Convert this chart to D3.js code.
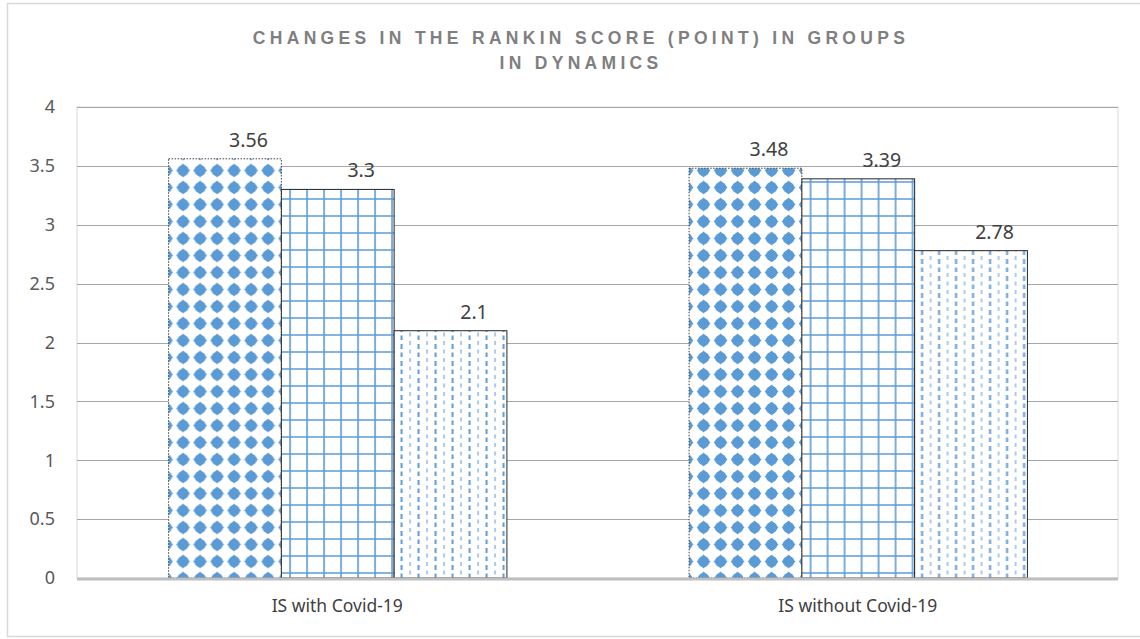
<!DOCTYPE html>
<html>
<head>
<meta charset="utf-8">
<script src="https://cdn.jsdelivr.net/npm/d3@7"></script>
<style>
  body { margin: 0; background: #fff; }
  svg { display: block; }
</style>
</head>
<body>
<div id="chart"></div>
<script>
const categories = ["IS with Covid-19", "IS without Covid-19"];
const seriesNames = ["s1", "s2", "s3"];
const seriesValues = [
  [3.56, 3.48],
  [3.3, 3.39],
  [2.1, 2.78]
];
const yTicks = [0, 0.5, 1, 1.5, 2, 2.5, 3, 3.5, 4];
const titleLines = ["CHANGES IN THE RANKIN SCORE (POINT) IN GROUPS", "IN DYNAMICS"];

const width = 1140, height = 639;
const plot = { left: 77, right: 1118, top: 107, bottom: 578 };
const blue = "#5b9bd5";

const svg = d3.select("#chart").append("svg")
  .attr("width", width)
  .attr("height", height);

// patterns
const defs = svg.append("defs");

const pDots = defs.append("pattern")
  .attr("id", "pat-dots")
  .attr("patternUnits", "userSpaceOnUse")
  .attr("width", 17).attr("height", 17)
  .attr("x", 159.5).attr("y", 162);
pDots.append("rect").attr("width", 17).attr("height", 17).attr("fill", "#fff");
pDots.append("circle")
  .attr("cx", 8.5).attr("cy", 8.5).attr("r", 5.6)
  .attr("fill", blue);
pDots.append("path")
  .attr("d", "M8.5,1.6 L15.4,8.5 L8.5,15.4 L1.6,8.5 Z")
  .attr("fill", blue);

const pGrid = defs.append("pattern")
  .attr("id", "pat-grid")
  .attr("patternUnits", "userSpaceOnUse")
  .attr("width", 17).attr("height", 17)
  .attr("x", 0).attr("y", plot.bottom);
pGrid.append("rect").attr("width", 17).attr("height", 17).attr("fill", "#fff");
pGrid.append("path")
  .attr("d", "M3,0 V17 M0,12 H17")
  .attr("stroke", blue).attr("stroke-width", 1.6);

const pDash = defs.append("pattern")
  .attr("id", "pat-dash")
  .attr("patternUnits", "userSpaceOnUse")
  .attr("width", 17).attr("height", 17)
  .attr("x", 0).attr("y", plot.bottom);
pDash.append("rect").attr("width", 17).attr("height", 17).attr("fill", "#fff");
pDash.append("path")
  .attr("d", "M4,1 V5 M4,9.5 V13.5")
  .attr("stroke", "#7fb0de").attr("stroke-width", 1.3);
pDash.append("path")
  .attr("d", "M12.5,4 V9 M12.5,12.5 V17.5")
  .attr("stroke", blue).attr("stroke-width", 2);

const fills = ["url(#pat-dots)", "url(#pat-grid)", "url(#pat-dash)"];
const borders = [
  { stroke: "#404040", dash: "1.5,1.5" },
  { stroke: "#262626", dash: null },
  { stroke: "#262626", dash: null }
];

// outer frame
svg.append("rect")
  .attr("x", 7.5).attr("y", 3.5)
  .attr("width", width).attr("height", 633)
  .attr("fill", "none").attr("stroke", "#d9d9d9").attr("stroke-width", 1.5);

// title
const title = svg.append("text")
  .attr("text-anchor", "middle")
  .attr("font-family", "Liberation Sans Narrow, Liberation Sans, Arial, sans-serif")
  .attr("font-weight", "bold")
  .attr("font-size", 17.5)
  .attr("letter-spacing", 4.3)
  .attr("fill", "#7f7f7f");
titleLines.forEach((t, i) => {
  title.append("tspan")
    .attr("x", 581)
    .attr("y", 44 + i * 24.5)
    .text(t);
});

// scales
const y = d3.scaleLinear().domain([0, 4]).range([plot.bottom, plot.top]);
const x0 = d3.scaleBand().domain(categories).range([plot.left, plot.right]).paddingInner(0.35).paddingOuter(0.175);
const x1 = d3.scaleBand().domain(seriesNames).range([0, x0.bandwidth()]);

// plot area border
svg.append("rect")
  .attr("x", plot.left).attr("y", plot.top)
  .attr("width", plot.right - plot.left).attr("height", plot.bottom - plot.top)
  .attr("fill", "none").attr("stroke", "#d9d9d9").attr("stroke-width", 1);

// gridlines
svg.append("g")
  .selectAll("line")
  .data(yTicks.filter(d => d > 0))
  .join("line")
  .attr("x1", plot.left).attr("x2", plot.right)
  .attr("y1", d => Math.round(y(d)) + 0.5).attr("y2", d => Math.round(y(d)) + 0.5)
  .attr("stroke", "#a6a6a6").attr("stroke-width", 1);

// y axis
const yAxis = svg.append("g")
  .attr("transform", `translate(${plot.left},0)`)
  .call(d3.axisLeft(y).tickValues(yTicks).tickFormat(d => d).tickSize(0).tickPadding(22));
yAxis.select(".domain").remove();
yAxis.selectAll("text")
  .attr("font-family", "Noto Sans, sans-serif")
  .attr("font-size", 18)
  .attr("fill", "#595959");

// bars
const groups = svg.append("g")
  .selectAll("g")
  .data(categories)
  .join("g")
  .attr("transform", d => `translate(${x0(d)},0)`);

groups.selectAll("rect")
  .data((c, ci) => seriesNames.map((s, si) => ({ s, si, v: seriesValues[si][ci] })))
  .join("rect")
  .attr("x", d => x1(d.s) + 0.5)
  .attr("y", d => y(d.v))
  .attr("width", x1.bandwidth())
  .attr("height", d => y(0) - y(d.v))
  .attr("fill", d => fills[d.si])
  .attr("stroke", d => borders[d.si].stroke)
  .attr("stroke-dasharray", d => borders[d.si].dash)
  .attr("stroke-width", 1);

// data labels
groups.selectAll("text")
  .data((c, ci) => seriesNames.map((s, si) => ({ s, si, v: seriesValues[si][ci] })))
  .join("text")
  .attr("x", d => x1(d.s) + x1.bandwidth() / 2 + 24)
  .attr("y", d => y(d.v) - 12)
  .attr("text-anchor", "middle")
  .attr("font-family", "Noto Sans, sans-serif")
  .attr("font-size", 19.5)
  .attr("fill", "#404040")
  .text(d => d.v);

// baseline
svg.append("line")
  .attr("x1", plot.left).attr("x2", plot.right)
  .attr("y1", y(0) + 1).attr("y2", y(0) + 1)
  .attr("stroke", "#bfbfbf").attr("stroke-width", 3);

// x axis labels
const xAxis = svg.append("g")
  .attr("transform", `translate(0,${plot.bottom})`)
  .call(d3.axisBottom(x0).tickSize(0).tickPadding(22));
xAxis.select(".domain").remove();
xAxis.selectAll("text")
  .attr("font-family", "Noto Sans, sans-serif")
  .attr("font-size", 17.5)
  .attr("fill", "#404040");
</script>
</body>
</html>
